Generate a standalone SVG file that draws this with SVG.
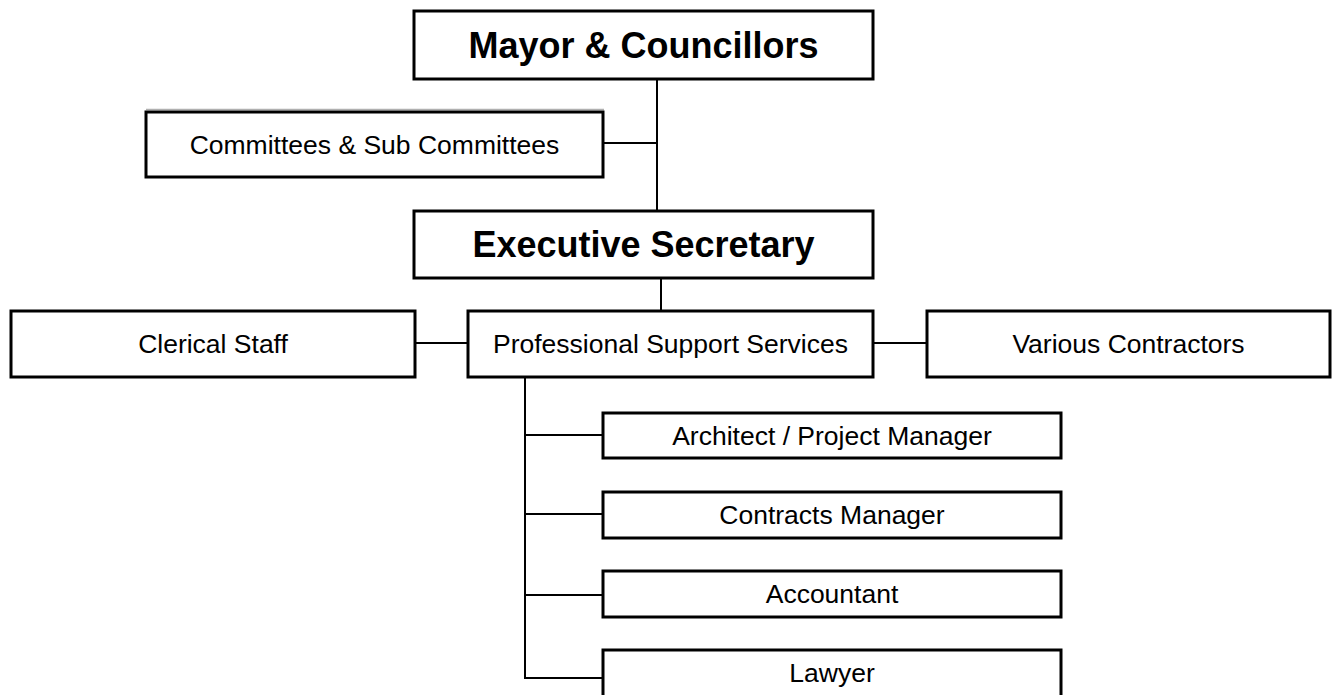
<svg xmlns="http://www.w3.org/2000/svg" width="1334" height="695" viewBox="0 0 1334 695">
<style>
.box{fill:#fff;stroke:#000;stroke-width:3}
.t{font-family:"Liberation Sans",Arial,sans-serif;font-size:26.5px;fill:#000;text-anchor:middle}
.tb{font-family:"Liberation Sans",Arial,sans-serif;font-size:36px;font-weight:bold;fill:#000;text-anchor:middle}
.c{stroke:#000;stroke-width:2;fill:none}
.g{stroke:#b0b0b0;stroke-width:1.5;fill:none}
</style>
<rect width="1334" height="695" fill="#fff"/>
<g id="connectors">
<line class="c" x1="657" y1="79" x2="657" y2="211"/>
<line class="c" x1="603" y1="143" x2="657" y2="143"/>
<line class="c" x1="661" y1="278" x2="661" y2="311"/>
<line class="c" x1="415" y1="343" x2="468" y2="343"/>
<line class="c" x1="873" y1="343" x2="927" y2="343"/>
<polyline class="c" points="525,377 525,678 603,678"/>
<line class="c" x1="525" y1="435" x2="603" y2="435"/>
<line class="c" x1="525" y1="514" x2="603" y2="514"/>
<line class="c" x1="525" y1="595" x2="603" y2="595"/>
</g>
<g id="mayor">
<rect class="box" x="414" y="11" width="459" height="68"/>
<text class="tb" x="643.5" y="57.5">Mayor &amp; Councillors</text>
</g>
<g id="committees">
<line class="g" x1="146" y1="109.5" x2="604" y2="109.5"/>
<rect class="box" x="146" y="112" width="457" height="65"/>
<text class="t" x="374.5" y="154">Committees &amp; Sub Committees</text>
</g>
<g id="executive">
<rect class="box" x="414" y="211" width="459" height="67"/>
<text class="tb" x="643.5" y="257">Executive Secretary</text>
</g>
<g id="clerical">
<rect class="box" x="11" y="311" width="404" height="66"/>
<text class="t" x="213" y="353">Clerical Staff</text>
</g>
<g id="pss">
<rect class="box" x="468" y="311" width="405" height="66"/>
<text class="t" x="670.5" y="353">Professional Support Services</text>
</g>
<g id="contractors">
<rect class="box" x="927" y="311" width="403" height="66"/>
<text class="t" x="1128.5" y="353">Various Contractors</text>
</g>
<g id="architect">
<rect class="box" x="603" y="413" width="458" height="45"/>
<text class="t" x="832" y="445">Architect / Project Manager</text>
</g>
<g id="contracts">
<rect class="box" x="603" y="492" width="458" height="46"/>
<text class="t" x="832" y="524">Contracts Manager</text>
</g>
<g id="accountant">
<rect class="box" x="603" y="571" width="458" height="46"/>
<text class="t" x="832" y="603">Accountant</text>
</g>
<g id="lawyer">
<rect class="box" x="603" y="650" width="458" height="52"/>
<text class="t" x="832" y="682">Lawyer</text>
</g>
</svg>
